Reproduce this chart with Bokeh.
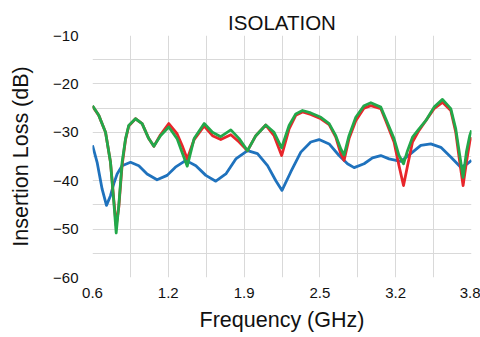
from bokeh.plotting import figure
from bokeh.models import FixedTicker, Range1d
from bokeh.embed import file_html
from bokeh.resources import INLINE

# ---- data ----
freq_blue = [0.60, 0.639, 0.681, 0.718, 0.752, 0.78, 0.808, 0.85, 0.921, 0.991, 1.061, 1.145, 1.23,
             1.30, 1.388, 1.473, 1.557, 1.641, 1.726, 1.81, 1.909, 1.993, 2.078, 2.148, 2.20, 2.274,
             2.359, 2.443, 2.513, 2.598, 2.682, 2.753, 2.809, 2.893, 2.964, 3.034, 3.104, 3.203,
             3.287, 3.372, 3.456, 3.541, 3.625, 3.709, 3.766, 3.80]
blue = [-32.7, -36.2, -41.7, -45.1, -43.1, -40.6, -38.6, -36.9, -36.2, -36.9, -38.6, -39.8, -38.9,
        -37.2, -35.8, -36.9, -38.9, -40.1, -38.6, -35.5, -33.8, -34.4, -36.9, -40.0, -42.0, -38.2,
        -34.1, -32.0, -31.5, -32.4, -34.8, -36.5, -37.3, -36.5, -35.3, -34.8, -35.5, -36.0,
        -34.4, -32.7, -32.4, -33.1, -35.1, -37.2, -36.5, -35.8]

freq_rg = [0.60, 0.653, 0.71, 0.752, 0.78, 0.80, 0.822, 0.85, 0.879, 0.906, 0.963, 1.019, 1.075,
           1.118, 1.174, 1.244, 1.314, 1.356, 1.40, 1.458, 1.543, 1.613, 1.683, 1.768, 1.838, 1.909,
           1.979, 2.063, 2.133, 2.197, 2.26, 2.316, 2.373, 2.443, 2.528, 2.598, 2.654, 2.696, 2.724,
           2.766, 2.823, 2.893, 2.95, 3.034, 3.076, 3.146, 3.188, 3.226, 3.26, 3.302, 3.357, 3.414,
           3.484, 3.555, 3.625, 3.667, 3.701, 3.729, 3.757, 3.785, 3.80]
red = [-24.6, -26.5, -30.0, -36.2, -44.0, -49.3, -45.5, -36.8, -31.5, -28.7, -27.2, -28.2, -31.3,
       -32.9, -30.5, -28.2, -30.3, -32.7, -35.5, -31.5, -28.7, -30.7, -31.5, -30.5, -32.0, -33.8,
       -30.7, -28.5, -30.7, -34.8, -29.3, -26.5, -25.8, -26.3, -27.2, -28.4, -31.0, -34.4, -35.8,
       -31.3, -27.6, -25.0, -24.5, -25.1, -27.6, -32.0, -36.9, -41.0, -36.9, -32.0, -29.6, -27.6,
       -25.1, -23.8, -25.5, -30.0, -36.2, -41.0, -36.2, -32.0, -31.0]
green = [-24.5, -26.5, -30.0, -36.2, -44.4, -50.8, -45.1, -36.2, -31.3, -28.6, -27.2, -28.2, -31.3,
         -32.9, -30.7, -28.9, -31.3, -34.1, -37.0, -31.3, -28.2, -30.0, -30.9, -29.5, -31.3, -33.8,
         -30.7, -28.5, -30.0, -33.2, -28.6, -26.2, -25.5, -26.0, -26.9, -28.2, -30.7, -33.4, -34.7,
         -30.7, -26.9, -24.5, -23.9, -24.8, -27.2, -31.3, -34.8, -36.5, -33.8, -31.0, -29.3, -27.6,
         -24.8, -23.2, -25.1, -29.3, -34.8, -39.3, -34.1, -30.7, -29.6]

x_major = [0.6, 1.24, 1.88, 2.52, 3.16, 3.8]
x_labels = ["0.6", "1.2", "1.9", "2.5", "3.2", "3.8"]
x_minor = [0.92, 1.56, 2.2, 2.84, 3.48]
y_major = [-60, -50, -40, -30, -20, -10]
y_minor = [-55, -45, -35, -25, -15]

FONT = "Liberation Sans"
GRID = "#d9d9d9"

p = figure(frame_width=379, frame_height=242, output_backend="svg", toolbar_location=None,
           x_range=Range1d(0.6, 3.8), y_range=Range1d(-60, -10),
           min_border_left=92, min_border_right=9, min_border_top=35, min_border_bottom=52,
           title="ISOLATION")
p.title.align = "center"
p.title.text_font = FONT
p.title.text_font_size = "20.5px"
p.title.text_font_style = "normal"
p.title.text_color = "#111111"
p.title.standoff = 3
p.title.offset = 0
p.outline_line_color = None
p.background_fill_color = "white"
p.border_fill_color = "white"

p.xaxis.ticker = FixedTicker(ticks=x_major, minor_ticks=x_minor)
p.xaxis.major_label_overrides = {t: l for t, l in zip(x_major, x_labels)}
p.yaxis.ticker = FixedTicker(ticks=y_major, minor_ticks=y_minor)

for ax in (p.xaxis, p.yaxis):
    ax.axis_line_color = None
    ax.major_tick_line_color = None
    ax.minor_tick_line_color = None
    ax.major_tick_out = 0
    ax.minor_tick_out = 0
    ax.major_label_text_font = FONT
    ax.major_label_text_font_size = "15px"
    ax.major_label_text_color = "#111111"
    ax.axis_label_text_font = FONT
    ax.axis_label_text_font_size = "21.5px"
    ax.axis_label_text_font_style = "normal"
    ax.axis_label_text_color = "#111111"

p.xaxis.axis_label = "Frequency (GHz)"
p.yaxis.axis_label = "Insertion Loss (dB)"
p.xaxis.major_label_standoff = 10
p.yaxis.major_label_standoff = 14
p.xaxis.axis_label_standoff = 7
p.yaxis.axis_label_standoff = 17

for g in (p.xgrid, p.ygrid):
    g.grid_line_color = GRID
    g.grid_line_width = 1
    g.minor_grid_line_color = GRID
    g.minor_grid_line_width = 1

p.line(freq_blue, blue, line_color="#1f72bd", line_width=2.8, line_join="round")
p.line(freq_rg, red, line_color="#e8262b", line_width=2.8, line_join="round")
p.line(freq_rg, green, line_color="#22a84a", line_width=2.8, line_join="round")

open("out.html", "w").write(file_html(p, INLINE))
